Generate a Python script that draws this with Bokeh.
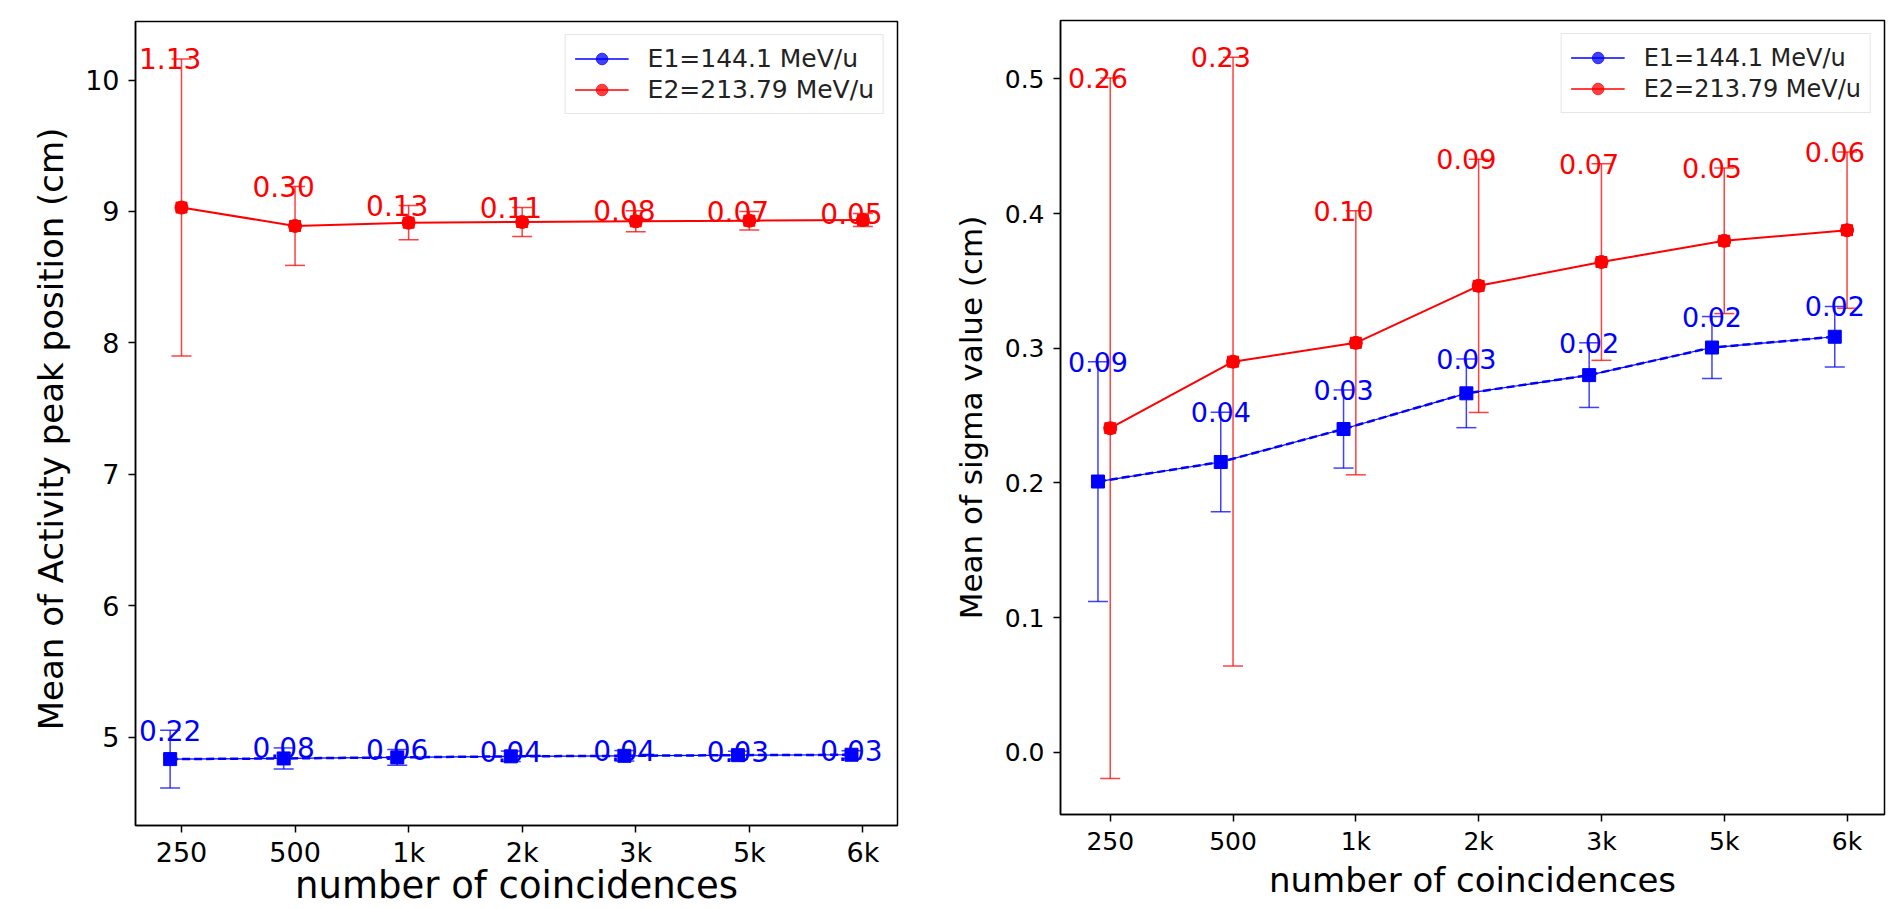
from bokeh.plotting import figure
from bokeh.models import (ColumnDataSource, Whisker, TeeHead, FixedTicker, Range1d,
                          Legend, LegendItem, PrintfTickFormatter)
from bokeh.layouts import row
from bokeh.core.properties import value
from bokeh.embed import file_html
from bokeh.resources import INLINE

FONT = "DejaVu Sans"
NAN = float("nan")

# ---------------- data ----------------
categories = ["250", "500", "1k", "2k", "3k", "5k", "6k"]

# left panel: mean of activity peak position (cm)
peak_e1 = [4.835, 4.840, 4.848, 4.856, 4.860, 4.865, 4.868]
peak_e1_err = [0.22, 0.08, 0.06, 0.04, 0.04, 0.03, 0.03]
peak_e1_lab = ["0.22", "0.08", "0.06", "0.04", "0.04", "0.03", "0.03"]
peak_e2 = [9.030, 8.890, 8.915, 8.920, 8.925, 8.930, 8.935]
peak_e2_err = [1.13, 0.30, 0.13, 0.11, 0.08, 0.07, 0.05]
peak_e2_lab = ["1.13", "0.30", "0.13", "0.11", "0.08", "0.07", "0.05"]

# right panel: mean of sigma value (cm)
sigma_e1 = [0.201, 0.2155, 0.240, 0.2665, 0.280, 0.3005, 0.3085]
sigma_e1_err = [0.089, 0.037, 0.029, 0.0255, 0.024, 0.023, 0.0225]
sigma_e1_lab = ["0.09", "0.04", "0.03", "0.03", "0.02", "0.02", "0.02"]
sigma_e2 = [0.2406, 0.290, 0.304, 0.3463, 0.364, 0.3797, 0.3876]
sigma_e2_err = [0.26, 0.226, 0.098, 0.094, 0.073, 0.054, 0.058]
sigma_e2_lab = ["0.26", "0.23", "0.10", "0.09", "0.07", "0.05", "0.06"]

series_names = ["E1=144.1 MeV/u", "E2=213.79 MeV/u"]
x_title = "number of coincidences"


def panel(cfg, e1, e1_err, e1_lab, e2, e2_err, e2_lab):
    p = figure(width=cfg["width"], height=cfg["height"], output_backend="svg",
               toolbar_location=None, frame_align=False,
               x_range=Range1d(-0.405, 6.305), y_range=Range1d(*cfg["yrange"]),
               min_border_left=cfg["bl"], min_border_right=cfg["br"],
               min_border_top=cfg["bt"], min_border_bottom=cfg["bb"])
    p.xgrid.visible = False
    p.ygrid.visible = False
    p.outline_line_color = "black"
    p.outline_line_width = 1.5
    p.outline_line_alpha = 1.0
    p.background_fill_color = "white"
    p.border_fill_color = "white"

    xs = list(range(len(categories)))
    xb = [x - 0.1 for x in xs]

    s1 = ColumnDataSource(dict(x=xb, y=e1,
                               upper=[a + b for a, b in zip(e1, e1_err)],
                               lower=[a - b for a, b in zip(e1, e1_err)],
                               lab=e1_lab))
    s2 = ColumnDataSource(dict(x=xs, y=e2,
                               upper=[a + b for a, b in zip(e2, e2_err)],
                               lower=[a - b for a, b in zip(e2, e2_err)],
                               lab=e2_lab))
    t2 = ColumnDataSource(dict(x=xb, y=[a + b for a, b in zip(e2, e2_err)], lab=e2_lab))

    # E1 (blue)
    p.line("x", "y", source=s1, line_color="blue", line_width=1.2)
    p.line("x", "y", source=s1, line_color="blue", line_width=2.5, line_dash="8 4")
    p.add_layout(Whisker(source=s1, base="x", upper="upper", lower="lower", dimension="height",
                         line_color="blue", line_alpha=0.75, line_width=1.5,
                         upper_head=TeeHead(size=20, line_color="blue", line_alpha=0.75, line_width=1.5),
                         lower_head=TeeHead(size=20, line_color="blue", line_alpha=0.75, line_width=1.5)))
    p.scatter("x", "y", source=s1, marker="square", size=13, color="blue")

    # E2 (red)
    p.line("x", "y", source=s2, line_color="red", line_width=2)
    p.add_layout(Whisker(source=s2, base="x", upper="upper", lower="lower", dimension="height",
                         line_color="red", line_alpha=0.75, line_width=1.5,
                         upper_head=TeeHead(size=20, line_color="red", line_alpha=0.75, line_width=1.5),
                         lower_head=TeeHead(size=20, line_color="red", line_alpha=0.75, line_width=1.5)))
    p.scatter("x", "y", source=s2, marker="square", size=11, color="red")
    p.scatter("x", "y", source=s2, marker="circle", size=13, color="red")

    # error labels
    p.text("x", "upper", text="lab", source=s1, text_font=value(FONT),
           text_font_size=cfg["lab_fs"], text_align="center", text_baseline="alphabetic",
           text_color="blue")
    p.text("x", "y", text="lab", source=t2, text_font=value(FONT),
           text_font_size=cfg["lab_fs"], text_align="center", text_baseline="alphabetic",
           text_color="red")

    # legend (handles: line + circle, as in the original)
    l1 = p.line([NAN], [NAN], line_color="blue", line_width=2, line_alpha=0.75)
    m1 = p.scatter([NAN], [NAN], marker="circle", size=14, color="blue", alpha=0.75)
    l2 = p.line([NAN], [NAN], line_color="red", line_width=2, line_alpha=0.75)
    m2 = p.scatter([NAN], [NAN], marker="circle", size=14, color="red", alpha=0.75)
    legend = Legend(items=[LegendItem(label=series_names[0], renderers=[l1, m1]),
                           LegendItem(label=series_names[1], renderers=[l2, m2])],
                    location="top_right", margin=13, padding=9, spacing=2,
                    glyph_width=54, glyph_height=29, label_height=29, label_standoff=19,
                    label_text_font=FONT, label_text_font_size=cfg["leg_fs"],
                    label_text_color="#222222",
                    border_line_color="#cccccc", border_line_width=1.5,
                    background_fill_color="white", background_fill_alpha=0.8)
    p.add_layout(legend)

    # axes
    xa = p.xaxis[0]
    ya = p.yaxis[0]
    xa.ticker = FixedTicker(ticks=xs)
    xa.major_label_overrides = {i: c for i, c in enumerate(categories)}
    ya.ticker = FixedTicker(ticks=cfg["yticks"])
    if cfg.get("yfmt"):
        ya.formatter = PrintfTickFormatter(format=cfg["yfmt"])
    for ax in (xa, ya):
        ax.axis_line_color = "black"
        ax.axis_line_width = 1.5
        ax.major_tick_line_color = "black"
        ax.major_tick_line_width = 1.5
        ax.major_tick_in = 0
        ax.major_tick_out = 7
        ax.minor_tick_line_color = None
        ax.major_label_text_font = FONT
        ax.major_label_text_font_size = cfg["tick_fs"]
        ax.major_label_text_color = "black"
        ax.axis_label_text_font = FONT
        ax.axis_label_text_font_style = "normal"
        ax.axis_label_text_color = "black"
    xa.axis_label = x_title
    xa.axis_label_text_font_size = cfg["xlab_fs"]
    xa.major_label_standoff = cfg["x_std"]
    xa.axis_label_standoff = cfg["xl_std"]
    ya.axis_label = cfg["ylabel"]
    ya.axis_label_text_font_size = cfg["ylab_fs"]
    ya.major_label_standoff = cfg["y_std"]
    ya.axis_label_standoff = cfg["yl_std"]
    return p


left_cfg = dict(width=948, height=909, bl=135, br=51, bt=21, bb=82,
                yrange=(4.33, 10.445), yticks=[5, 6, 7, 8, 9, 10], yfmt=None,
                ylabel="Mean of Activity peak position  (cm)",
                tick_fs="27px", xlab_fs="37px", ylab_fs="34px", lab_fs="28px", leg_fs="25px",
                x_std=4, xl_std=-7, y_std=9, yl_std=11)
right_cfg = dict(width=953, height=909, bl=112, br=17, bt=20, bb=95,
                 yrange=(-0.0462, 0.5433), yticks=[0.0, 0.1, 0.2, 0.3, 0.4, 0.5], yfmt="%.1f",
                 ylabel="Mean of sigma value (cm)",
                 tick_fs="25px", xlab_fs="34px", ylab_fs="31px", lab_fs="27px", leg_fs="24px",
                 x_std=5, xl_std=1, y_std=9, yl_std=13)

p1 = panel(left_cfg, peak_e1, peak_e1_err, peak_e1_lab, peak_e2, peak_e2_err, peak_e2_lab)
p2 = panel(right_cfg, sigma_e1, sigma_e1_err, sigma_e1_lab, sigma_e2, sigma_e2_err, sigma_e2_lab)

layout = row(p1, p2)
open("out.html", "w").write(file_html(layout, INLINE))
